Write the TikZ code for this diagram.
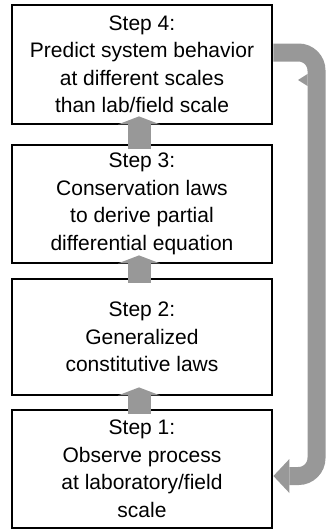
\documentclass[tikz,border=0pt]{standalone}
\usepackage{fontspec}
\setmainfont{Liberation Sans}
\usetikzlibrary{arrows.meta,calc}
\definecolor{flowgray}{RGB}{152,152,152}
\tikzset{
  stepbox/.style={draw=black, line width=2.8pt, fill=white, minimum width=260pt,
    align=center, inner sep=0pt, font=\fontsize{21}{27.5}\selectfont},
  uparrow/.style={draw=flowgray, line width=23pt,
    -{Triangle[width=42pt,length=8pt,line width=0pt]}},
  looparrow/.style={draw=flowgray, line width=18pt, rounded corners=18pt,
    -{Triangle[width=34pt,length=16pt,line width=0pt]}}
}
\begin{document}
\begin{tikzpicture}[x=1pt,y=-1pt]
\useasboundingbox (0,0) rectangle (328,530);

% the four steps, top to bottom
\node[stepbox, minimum height=119pt] (b4) at (142,64.5)
  {Step 4:\\Predict system behavior\\at different scales\\than lab/field scale};
\node[stepbox, minimum height=118pt] (b3) at (142,204)
  {Step 3:\\Conservation laws\\to derive partial\\differential equation};
\node[stepbox, minimum height=116pt] (b2) at (142,337)
  {Step 2:\\Generalized\\constitutive laws};
\node[stepbox, minimum height=118pt] (b1) at (142,469)
  {Step 1:\\Observe process\\at laboratory/field\\scale};

% upward block arrows between steps
\draw[uparrow] ($(b1.north)+(-3,5)$) -- ($(b2.south)+(-3,-9)$);
\draw[uparrow] ($(b2.north)+(-3,5)$) -- ($(b3.south)+(-3,-9)$);
\draw[uparrow] ($(b3.north)+(-3,5)$) -- ($(b4.south)+(-3,-9)$);

% feedback loop from step 4 back to step 1
\coordinate (ls) at ($(b4.east)+(0,-12)$);
\coordinate (le) at ($(b1.east)+(0,7)$);
\coordinate (lx) at (316.5,0);
\draw[looparrow] (ls) -- (ls -| lx) -- (le -| lx) -- (le);
\fill[flowgray] (307.5,74) -- (298,80) -- (307.5,86) -- cycle;
\end{tikzpicture}
\end{document}
